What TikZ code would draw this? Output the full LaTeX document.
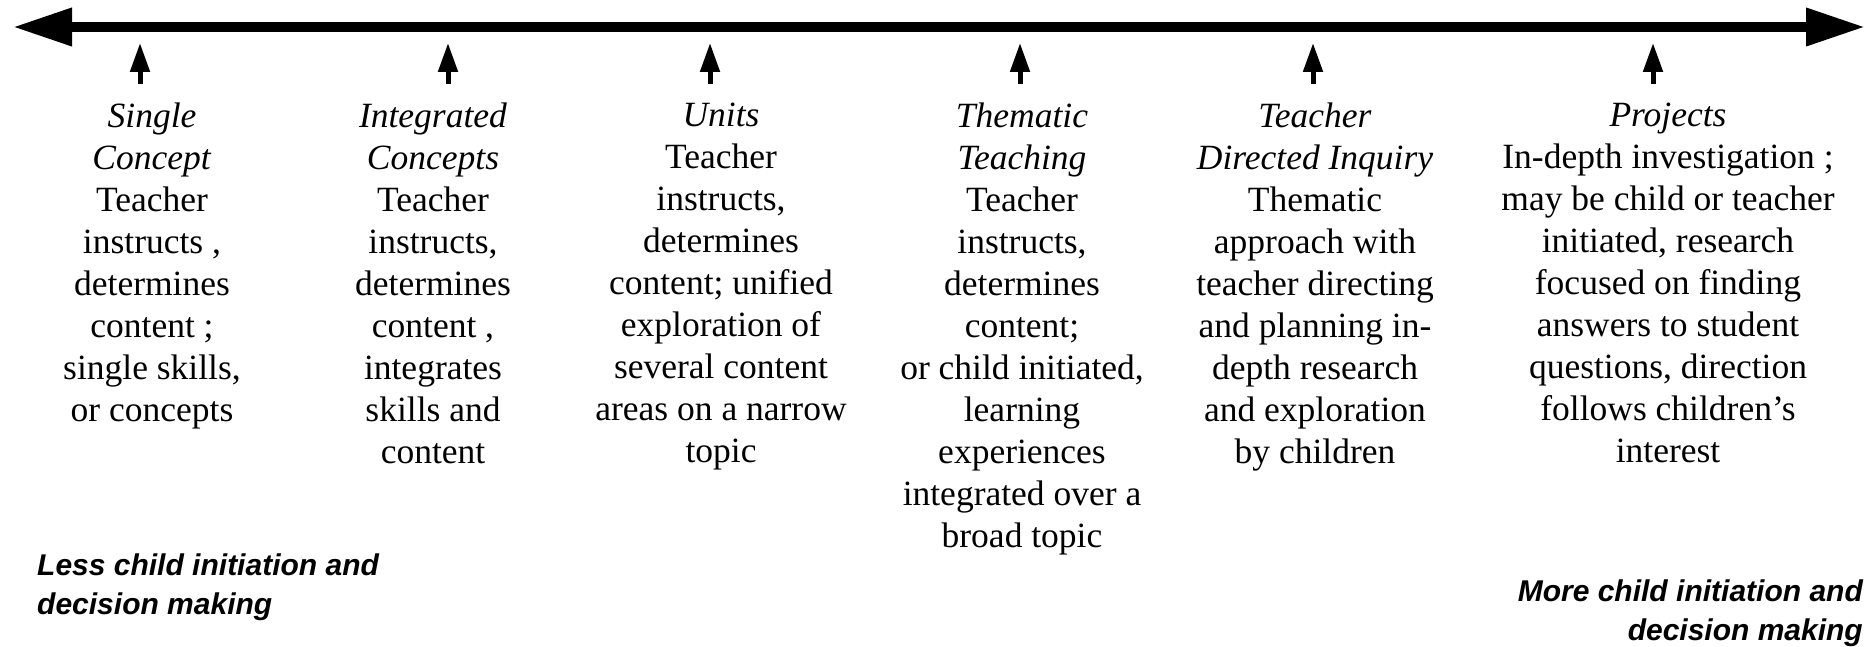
\documentclass[tikz,border=0pt]{standalone}
\usepackage{fontspec}
\setmainfont{Liberation Serif}
\newfontfamily\sansfam{Liberation Sans}
\usetikzlibrary{arrows.meta}
\tikzset{
  coltext/.style={anchor=north, align=center, inner sep=0pt, font=\fontsize{35.5}{42}\selectfont},
  sidetext/.style={inner sep=0pt, font=\sansfam\bfseries\itshape\fontsize{30}{39}\selectfont},
  mainline/.style={line width=10pt, {Triangle[width=36pt,length=59pt]}-{Triangle[width=36pt,length=59pt]}},
  tickarrow/.style={line width=5pt, -{Triangle[width=19pt,length=29pt]}},
}
\begin{document}
\begin{tikzpicture}[x=1pt,y=-1pt]
\useasboundingbox (0,0) rectangle (1873,647);
\coordinate (L) at (13,27);
\coordinate (R) at (1865,27);
\draw[mainline] (L) -- (R);

\foreach \i/\x in {1/140,2/448,3/710,4/1020,5/1313,6/1653}{
  \coordinate (b\i) at (\x,84);
  \coordinate (t\i) at (\x,43);
  \draw[tickarrow] (b\i) -- (t\i);
}

\node[coltext] (c1) at (152,103) {\textit{Single}\\ \textit{Concept}\\ Teacher\\ instructs ,\\ determines\\ content ;\\ single skills,\\ or concepts};
\node[coltext] (c2) at (433,103) {\textit{Integrated}\\ \textit{Concepts}\\ Teacher\\ instructs,\\ determines\\ content ,\\ integrates\\ skills and\\ content};
\node[coltext] (c3) at (721,103) {\textit{Units}\\ Teacher\\ instructs,\\ determines\\ content; unified\\ exploration of\\ several content\\ areas on a narrow\\ topic};
\node[coltext] (c4) at (1022,103) {\textit{Thematic}\\ \textit{Teaching}\\ Teacher\\ instructs,\\ determines\\ content;\\ or child initiated,\\ learning\\ experiences\\ integrated over a\\ broad topic};
\node[coltext] (c5) at (1315,103) {\textit{Teacher}\\ \textit{Directed Inquiry}\\ Thematic\\ approach with\\ teacher directing\\ and planning in-\\ depth research\\ and exploration\\ by children};
\node[coltext] (c6) at (1668,103) {\textit{Projects}\\ In-depth investigation ;\\ may be child or teacher\\ initiated, research\\ focused on finding\\ answers to student\\ questions, direction\\ follows children’s\\ interest};

\node[sidetext, anchor=base west, align=left] (less) at (37,614) {Less child initiation and\\ decision making};
\node[sidetext, anchor=base east, align=right] (more) at (1863,640) {More child initiation and\\ decision making};
\end{tikzpicture}
\end{document}
